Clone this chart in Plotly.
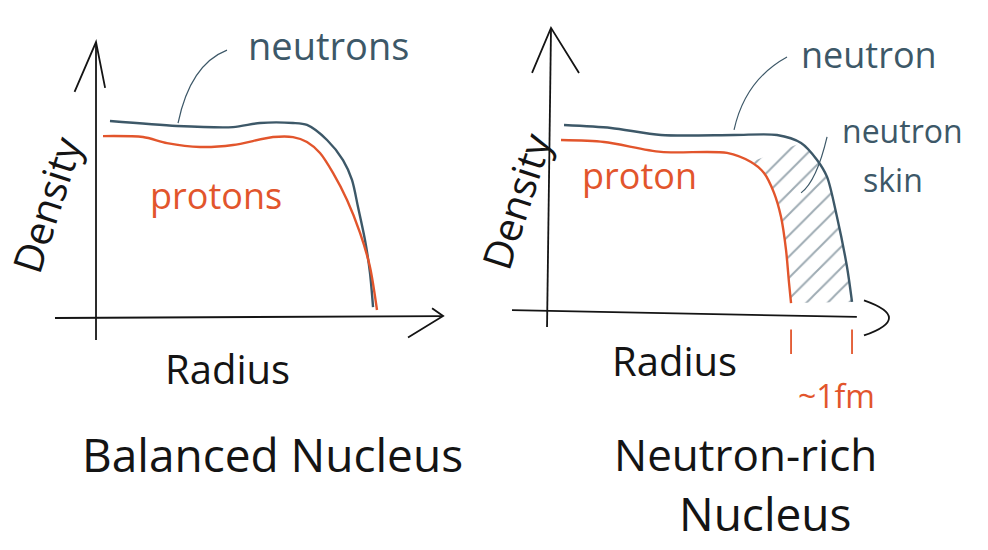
import plotly.graph_objects as go

# ---- density profiles (radius in fm, density relative to neutron plateau) ----
# Balanced nucleus
bal_r_n = [0.215, 1.246, 2.108, 2.523, 3.031, 3.246, 3.554, 3.800, 3.938, 4.031, 4.138, 4.215, 4.262]
bal_d_n = [1.010, 0.985, 0.979, 1.000, 1.000, 0.990, 0.913, 0.810, 0.708, 0.569, 0.400, 0.231, 0.056]
bal_r_p = [0.108, 0.723, 1.092, 1.600, 2.108, 2.723, 3.031, 3.246, 3.446, 3.646, 3.862, 4.062, 4.215, 4.323]
bal_d_p = [0.933, 0.928, 0.897, 0.877, 0.887, 0.928, 0.928, 0.903, 0.846, 0.744, 0.605, 0.436, 0.262, 0.041]

# Neutron-rich nucleus
rich_r_n = [0.215, 0.938, 1.708, 2.831, 3.492, 3.862, 4.108, 4.262, 4.415, 4.569, 4.646]
rich_d_n = [0.969, 0.954, 0.918, 0.918, 0.918, 0.877, 0.790, 0.703, 0.497, 0.241, 0.062]
rich_r_p = [0.169, 0.831, 1.708, 2.723, 3.092, 3.292, 3.446, 3.554, 3.631, 3.677, 3.708]
rich_d_p = [0.892, 0.882, 0.831, 0.826, 0.779, 0.723, 0.621, 0.497, 0.328, 0.159, 0.056]

# radii where the two surfaces end (skin thickness markers)
skin_marks = [3.708, 4.646]

NEUTRON = "#3d5868"
PROTON = "#e2552c"
INK = "#141414"
FONT = "Open Sans, Liberation Sans, sans-serif"

fig = go.Figure()

def curve(x, y, color, xa, ya):
    fig.add_trace(go.Scatter(x=x, y=y, mode="lines", xaxis=xa, yaxis=ya,
                             line=dict(color=color, width=2.4, shape="spline", smoothing=0.8),
                             hoverinfo="skip", showlegend=False))

# hatched neutron skin between the proton and neutron surfaces
k_p = rich_r_p.index(3.092)
k_n = rich_r_n.index(3.862)
skin_x = rich_r_p[k_p:] + rich_r_n[k_n:][::-1]
skin_y = rich_d_p[k_p:] + rich_d_n[k_n:][::-1]
fig.add_trace(go.Scatter(x=skin_x, y=skin_y, mode="lines", fill="toself", xaxis="x2", yaxis="y2",
                         line=dict(width=0, color="rgba(0,0,0,0)"),
                         fillcolor="rgba(0,0,0,0)",
                         fillpattern=dict(shape="/", fgcolor=NEUTRON, bgcolor="rgba(0,0,0,0)",
                                          size=15, solidity=0.13),
                         hoverinfo="skip", showlegend=False))

curve(bal_r_n, bal_d_n, NEUTRON, "x", "y")
curve(bal_r_p, bal_d_p, PROTON, "x", "y")
curve(rich_r_n, rich_d_n, NEUTRON, "x2", "y2")
curve(rich_r_p, rich_d_p, PROTON, "x2", "y2")

shapes = []
def seg(xr, yr, pts, color=INK, w=1.8):
    path = "M " + " L ".join(f"{a},{b}" for a, b in pts)
    shapes.append(dict(type="path", path=path, xref=xr, yref=yr,
                       line=dict(color=color, width=w)))

def qcurve(xr, yr, p0, c, p1, color=NEUTRON, w=1.2):
    shapes.append(dict(type="path", xref=xr, yref=yr,
                       path=f"M {p0[0]},{p0[1]} Q {c[0]},{c[1]} {p1[0]},{p1[1]}",
                       line=dict(color=color, width=w)))

# left panel axes with open arrow heads
seg("x", "y", [(0, -0.113), (0, 1.415)])
seg("x", "y", [(-0.33, 1.16), (0, 1.415), (0.14, 1.18)])
seg("x", "y", [(-0.631, 0), (5.34, 0.01)])
seg("x", "y", [(5.17, 0.05), (5.34, 0.01), (4.8, -0.1)])

# right panel axes
seg("x2", "y2", [(-0.046, -0.067), (0.015, 1.467)])
seg("x2", "y2", [(-0.277, 1.236), (0.015, 1.467), (0.446, 1.236)])
seg("x2", "y2", [(-0.585, 0.02), (4.72, -0.015)])
shapes.append(dict(type="path", xref="x2", yref="y2",
                   path="M 4.83,0.07 Q 5.6,-0.02 4.83,-0.11",
                   line=dict(color=INK, width=1.8)))

# skin thickness markers
for r in skin_marks:
    seg("x2", "y2", [(r, -0.08), (r, -0.205)], color=PROTON, w=1.8)

# label leader lines
qcurve("x", "y", (2.015, 1.374), (1.45, 1.3), (1.262, 1.0))
qcurve("x2", "y2", (3.646, 1.318), (3.0, 1.2), (2.831, 0.944))
qcurve("x2", "y2", (4.262, 0.908), (4.1, 0.68), (3.862, 0.621))

annotations = []
def label(text, x, y, xr, yr, size, color=INK, angle=0):
    annotations.append(dict(text=text, x=x, y=y, xref=xr, yref=yr, showarrow=False,
                            textangle=angle, xanchor="center", yanchor="middle",
                            font=dict(family=FONT, size=size, color=color)))

# left panel text
label("neutrons", 3.57, 1.40, "x", "y", 38, NEUTRON)
label("protons", 1.85, 0.63, "x", "y", 36, PROTON)
label("Density", -0.76, 0.58, "x", "y", 40, INK, angle=-72)
label("Radius", 2.03, -0.26, "x", "y", 40)
label("Balanced Nucleus", 2.72, -0.70, "x", "y", 46)

# right panel text
label("neutron", 4.9, 1.33, "x2", "y2", 36, NEUTRON)
label("neutron", 5.42, 0.94, "x2", "y2", 32, NEUTRON)
label("skin", 5.28, 0.69, "x2", "y2", 32, NEUTRON)
label("proton", 1.38, 0.71, "x2", "y2", 36, PROTON)
label("Density", -0.52, 0.58, "x2", "y2", 40, INK, angle=-72)
label("Radius", 1.92, -0.24, "x2", "y2", 40)
label("~1fm", 4.4, -0.42, "x2", "y2", 32, PROTON)
label("Neutron-rich", 3.0, -0.72, "x2", "y2", 44)
label("Nucleus", 3.3, -1.02, "x2", "y2", 46)

hidden = dict(visible=False, showgrid=False, zeroline=False, fixedrange=True)
fig.update_layout(
    width=988, height=550,
    margin=dict(l=0, r=0, t=0, b=0),
    paper_bgcolor="white", plot_bgcolor="white",
    xaxis=dict(domain=[0, 0.5], range=[-1.477, 6.123], anchor="y", **hidden),
    yaxis=dict(domain=[0, 1], range=[-1.190, 1.631], anchor="x", **hidden),
    xaxis2=dict(domain=[0.5, 1], range=[-0.862, 6.738], anchor="y2", **hidden),
    yaxis2=dict(domain=[0, 1], range=[-1.210, 1.610], anchor="x2", **hidden),
    shapes=shapes,
    annotations=annotations,
    showlegend=False,
)

fig.write_html("out.html")
